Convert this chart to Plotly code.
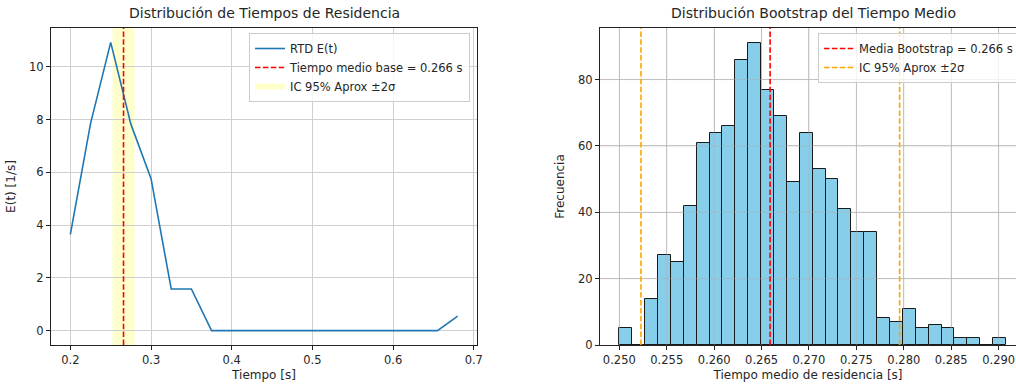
import numpy as np
import plotly.graph_objects as go

# ---------------- data ----------------
t_rtd = [0.2, 0.225, 0.25, 0.275, 0.3, 0.325, 0.35, 0.375, 0.4, 0.45, 0.5, 0.55, 0.6, 0.655, 0.68]
e_rtd = [3.65, 7.85, 10.93, 7.83, 5.76, 1.58, 1.58, 0.0, 0.0, 0.0, 0.0, 0.0, 0.0, 0.0, 0.55]

t_mean_base = 0.2659
ci_low = 0.25228
ci_high = 0.27956
boot_mean = 0.2659

boot_min = 0.25000
boot_max = 0.29077
boot_counts = [5, 0, 14, 27, 25, 42, 61, 64, 66, 86, 91, 77, 69, 49, 64,
               53, 50, 41, 34, 34, 8, 7, 11, 5, 6, 5, 2, 2, 0, 2]

x1_ticks = [0.2, 0.3, 0.4, 0.5, 0.6, 0.7]
y1_ticks = [0, 2, 4, 6, 8, 10]
x2_ticks = [0.250, 0.255, 0.260, 0.265, 0.270, 0.275, 0.280, 0.285, 0.290]
y2_ticks = [0, 20, 40, 60, 80]

edges = np.linspace(boot_min, boot_max, len(boot_counts) + 1)
centers = (edges[:-1] + edges[1:]) / 2
bw = edges[1] - edges[0]

# ---------------- styling ----------------
W, H = 1016, 385
FONT = "DejaVu Sans"
TXT = "#262626"
GRID = "#cfcfcf"
ML, MT, MB = 0, 28, 40

fig = go.Figure()

fig.add_trace(go.Scatter(x=t_rtd, y=e_rtd, mode="lines", name="RTD E(t)",
                         line=dict(color="#1f77b4", width=1.6),
                         xaxis="x", yaxis="y", legend="legend", legendrank=1))
# legend-only entry for the shaded interval
fig.add_trace(go.Scatter(x=[None], y=[None], mode="none", fill="toself",
                         fillcolor="rgba(255,255,0,0.2)", name="IC 95% Aprox ±2σ",
                         xaxis="x", yaxis="y", legend="legend", legendrank=3))

fig.add_trace(go.Bar(x=centers, y=boot_counts, width=bw,
                     marker=dict(color="#87CEEB", line=dict(color="#1a1a1a", width=1)),
                     xaxis="x2", yaxis="y2", showlegend=False))

dash = "5.5px,2.4px"
shapes = [
    dict(type="rect", xref="x", yref="y domain", x0=ci_low, x1=ci_high, y0=0, y1=1,
         fillcolor="rgba(255,255,0,0.2)", line=dict(width=0), layer="below"),
]
# grid drawn above the bars (as in the reference)
for v in x2_ticks:
    shapes.append(dict(type="line", xref="x2", yref="y2 domain", x0=v, x1=v, y0=0, y1=1,
                       line=dict(color="rgba(175,175,175,0.55)", width=0.9), layer="above"))
for v in y2_ticks[1:]:
    shapes.append(dict(type="line", xref="x2 domain", yref="y2", x0=0, x1=1, y0=v, y1=v,
                       line=dict(color="rgba(175,175,175,0.55)", width=0.9), layer="above"))
shapes += [
    dict(type="line", xref="x", yref="y domain", x0=t_mean_base, x1=t_mean_base, y0=0, y1=1,
         line=dict(color="red", width=1.6, dash=dash),
         showlegend=True, name="Tiempo medio base = %.3f s" % t_mean_base, legend="legend", legendrank=2),
    dict(type="line", xref="x2", yref="y2 domain", x0=boot_mean, x1=boot_mean, y0=0, y1=1,
         line=dict(color="red", width=1.6, dash=dash),
         showlegend=True, name="Media Bootstrap = %.3f s" % boot_mean, legend="legend2", legendrank=1),
    dict(type="line", xref="x2", yref="y2 domain", x0=ci_low, x1=ci_low, y0=0, y1=1,
         line=dict(color="orange", width=1.6, dash=dash),
         showlegend=True, name="IC 95% Aprox ±2σ", legend="legend2", legendrank=2),
    dict(type="line", xref="x2", yref="y2 domain", x0=ci_high, x1=ci_high, y0=0, y1=1,
         line=dict(color="orange", width=1.6, dash=dash), showlegend=False),
]

x1_lo = min(t_rtd) - 0.05 * (max(t_rtd) - min(t_rtd))
x1_hi = max(t_rtd) + 0.05 * (max(t_rtd) - min(t_rtd))
y1_lo = min(e_rtd) - 0.05 * (max(e_rtd) - min(e_rtd))
y1_hi = max(e_rtd) + 0.05 * (max(e_rtd) - min(e_rtd))

x2_lo = boot_min - 0.05 * (boot_max - boot_min)
px_per_unit = (1000 - 620.7) / 0.04
x2_hi = x2_lo + (W - 600) / px_per_unit
y2_hi = max(boot_counts) * 1.05

axcommon = dict(showgrid=True, gridcolor=GRID, gridwidth=0.8, zeroline=False,
                showline=True, linecolor="#222", linewidth=1,
                ticks="outside", ticklen=4, tickcolor="#222", tickwidth=1,
                tickfont=dict(family=FONT, size=11.5, color=TXT))

legcommon = dict(bgcolor="rgba(255,255,255,0.8)", bordercolor="#cccccc", borderwidth=1,
                 font=dict(family=FONT, size=11.5, color=TXT), itemwidth=30,
                 tracegroupgap=0, xanchor="left", yanchor="top")

fig.update_layout(
    width=W, height=H,
    margin=dict(l=ML, r=0, t=MT, b=MB, autoexpand=False),
    plot_bgcolor="white", paper_bgcolor="white",
    font=dict(family=FONT, size=12, color=TXT),
    bargap=0,
    shapes=shapes,
    xaxis=dict(domain=[51 / W, 477 / W], anchor="y", range=[x1_lo, x1_hi],
               tickvals=x1_ticks, ticktext=["%.1f" % v for v in x1_ticks],
               mirror=True,
               title=dict(text="Tiempo [s]", standoff=4, font=dict(family=FONT, size=12, color=TXT)),
               **axcommon),
    yaxis=dict(domain=[0, 1], anchor="x", range=[y1_lo, y1_hi],
               tickvals=y1_ticks, mirror=True,
               title=dict(text="E(t) [1/s]", standoff=10, font=dict(family=FONT, size=12, color=TXT)),
               **axcommon),
    xaxis2=dict(domain=[600 / W, 1.0], anchor="y2", range=[x2_lo, x2_hi],
                tickvals=x2_ticks, ticktext=["%.3f" % v for v in x2_ticks], mirror=True,
                title=dict(text="Tiempo medio de residencia [s]", standoff=4,
                           font=dict(family=FONT, size=12, color=TXT)),
                **axcommon),
    yaxis2=dict(domain=[0, 1], anchor="x2", range=[0, y2_hi],
                tickvals=y2_ticks, mirror=False,
                title=dict(text="Frecuencia", standoff=10, font=dict(family=FONT, size=12, color=TXT)),
                **axcommon),
    legend=dict(x=249 / W, y=(345 - 33) / 317, **legcommon),
    legend2=dict(x=818 / W, y=(345 - 33) / 317, **legcommon),
    annotations=[
        dict(text="Distribución de Tiempos de Residencia", xref="paper", yref="paper",
             x=264 / W, y=1, yshift=5, xanchor="center", yanchor="bottom", showarrow=False,
             font=dict(family=FONT, size=14, color=TXT)),
        dict(text="Distribución Bootstrap del Tiempo Medio", xref="paper", yref="paper",
             x=813 / W, y=1, yshift=5, xanchor="center", yanchor="bottom", showarrow=False,
             font=dict(family=FONT, size=14, color=TXT)),
    ],
)

fig.write_html("out.html", config={"displayModeBar": False},
               post_script="document.body.style.margin='0';document.body.style.overflow='hidden';")
